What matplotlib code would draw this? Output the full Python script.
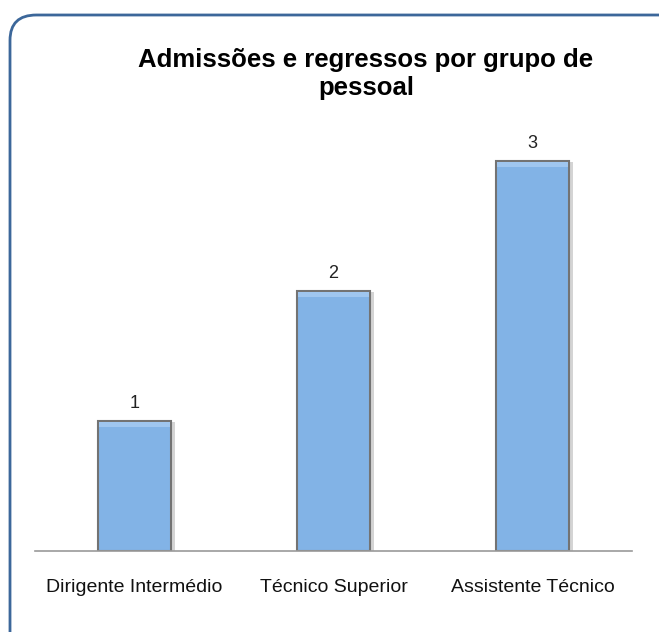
import matplotlib.pyplot as plt
from matplotlib.patches import FancyBboxPatch

categories = ['Dirigente Intermédio', 'Técnico Superior', 'Assistente Técnico']
values = [1, 2, 3]
title = 'Admissões e regressos por grupo de\npessoal'

plt.rcParams['font.family'] = ['Liberation Sans', 'DejaVu Sans']

fig = plt.figure(figsize=(6.59, 6.32), dpi=100)

# rounded frame around the chart
frame = FancyBboxPatch((10 / 659, -0.1), 0.99 - 10 / 659 + 0.05, 1.1 - 15 / 632,
                       boxstyle='round,pad=0,rounding_size=0.04',
                       transform=fig.transFigure, facecolor='white',
                       edgecolor='#3c679a', linewidth=2, zorder=-5)
fig.patches.append(frame)

ax = fig.add_axes([35 / 659, 81 / 632, 597 / 659, 455 / 632])
ax.set_facecolor('none')
x = range(len(categories))

# soft shadow behind bars
ax.bar([i + 0.02 for i in x], [v - 0.01 for v in values], width=0.37,
       color='#d4d4d4', zorder=1)
bars = ax.bar(x, values, width=0.37, color='#82b3e6', edgecolor='#737373',
              linewidth=1.5, zorder=2)
# lighter bevel just under the top edge of each bar
ax.bar(x, [0.035] * len(values), width=0.355, bottom=[v - 0.045 for v in values],
       color='#9fc6ef', linewidth=0, zorder=3)
for b, v in zip(bars, values):
    ax.text(b.get_x() + b.get_width() / 2, v + 0.07, str(v), ha='center',
            va='bottom', fontsize=13, color='#222222')

ax.set_xlim(-0.5, 2.5)
ax.set_ylim(0, 3.5)
ax.set_yticks([])
ax.set_xticks(list(x))
ax.set_xticklabels(categories, fontsize=14, color='#111111')
ax.tick_params(axis='x', length=0, pad=20)
for s in ['top', 'right', 'left']:
    ax.spines[s].set_visible(False)
ax.spines['bottom'].set_color('#9a9a9a')
ax.spines['bottom'].set_linewidth(1.2)

fig.text(366 / 659, 1 - 74 / 632, title, ha='center', va='center',
         fontsize=18.5, fontweight='bold', linespacing=1.2)

fig.savefig('out.png', dpi=100)
